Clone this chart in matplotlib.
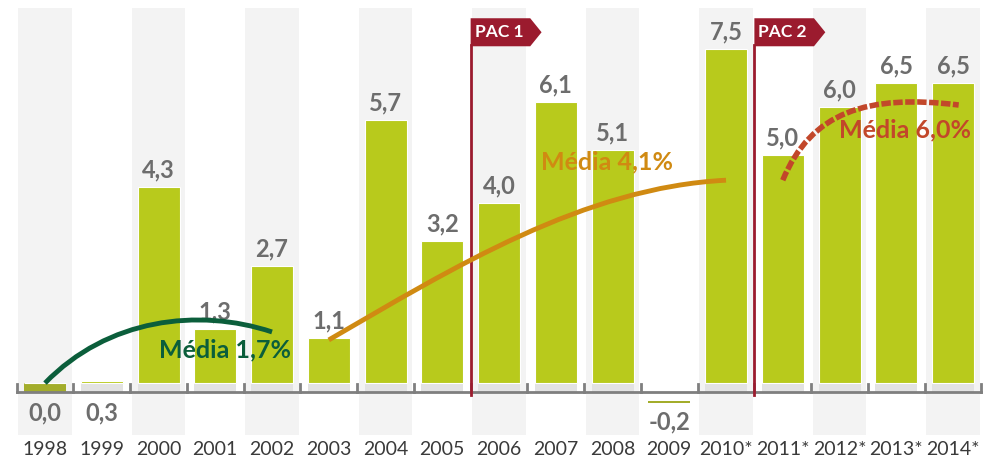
import matplotlib.pyplot as plt
from matplotlib.path import Path
from matplotlib.patches import PathPatch, Polygon
import numpy as np

plt.rcParams['font.family'] = ['Lato', 'DejaVu Sans']

years = ['1998', '1999', '2000', '2001', '2002', '2003', '2004', '2005', '2006',
         '2007', '2008', '2009', '2010*', '2011*', '2012*', '2013*', '2014*']
values = [0.0, 0.3, 4.3, 1.3, 2.7, 1.1, 5.7, 3.2, 4.0, 6.1, 5.1, -0.2, 7.5, 5.0, 6.0, 6.5, 6.5]
# bar heights as drawn in the picture (not exactly the printed labels)
heights = [0.0, 0.04, 4.4, 1.21, 2.63, 1.01, 5.91, 3.2, 4.04, 6.32, 5.24, -0.2, 7.5, 5.12, 6.21, 6.75, 6.75]

# average arcs as cubic bezier points (category index, level)
avg_labels = ['Média 1,7%', 'Média 4,1%', 'Média 6,0%']
avg_arcs = [
    [(0, 0.0), (1.1, 1.45), (2.7, 1.7), (4.0, 1.15)],
    [(5.0, 0.97), (7.2, 2.6), (9.5, 4.4), (12.0, 4.56)],
    [(13.0, 4.56), (13.5, 6.1), (14.5, 6.5), (16.1, 6.25)],
]
avg_label_pos = [(3.17, 0.74), (9.9, 4.97), (15.15, 5.69)]
avg_colors = ['#0b5e3b', '#d08a12', '#c2472a']

pac_labels = ['PAC 1', 'PAC 2']
pac_pos = [7.5, 12.5]

bar_color = '#b8ca1c'
axis_y = -0.2

fig = plt.figure(figsize=(10, 4.73), dpi=100)
ax = fig.add_axes([0, 0, 1, 1])
ax.set_xlim(-0.793, 16.828)
ax.set_ylim(-2.02, 8.61)
ax.axis('off')

x = np.arange(len(years))

# background stripes on every other year
for i in x[::2]:
    ax.bar(i, 8.43 + 1.17, bottom=-1.17, width=0.95, color='#f3f3f3', zorder=0)

# shadow base under each bar
for i, h in enumerate(heights):
    if h < 0:
        continue
    base_col = '#a3ad2b' if i == 0 else '#e2e2e2'
    ax.bar(i, -axis_y, bottom=axis_y, width=0.74, color=base_col, zorder=1)

for i, h in enumerate(heights):
    if h >= 0:
        ax.bar(i, h, width=0.74, color=bar_color, edgecolor='white', linewidth=0.8, zorder=2)
    else:
        ax.bar(i, 0.05, bottom=axis_y + h - 0.05, width=0.74, color='#a3ad2b', zorder=2)

# axis line with ticks at category boundaries
ax.plot([-0.5, 16.5], [axis_y, axis_y], color='#7f7f7f', lw=2, zorder=3)
for b in np.arange(-0.5, 17, 1.0):
    ax.plot([b, b], [axis_y, axis_y + 0.17], color='#7f7f7f', lw=2, zorder=3)

# value labels
for i, v in enumerate(values):
    txt = ('%.1f' % v).replace('.', ',')
    if i in (0, 1):
        ax.text(i, -0.67, txt, ha='center', va='center', fontsize=17,
                fontweight='bold', color='#6d6d6d', zorder=5)
    elif v < 0:
        ax.text(i, -0.88, txt, ha='center', va='center', fontsize=17,
                fontweight='bold', color='#6d6d6d', zorder=5)
    else:
        ax.annotate(txt, (i, heights[i]), xytext=(0, 4), textcoords='offset points',
                    ha='center', va='bottom', fontsize=17, fontweight='bold',
                    color='#6d6d6d', zorder=5)

# year labels
for i, y in enumerate(years):
    ax.text(i, -1.5, y, ha='center', va='center', fontsize=14, color='#3a3a3a')

# PAC markers
for lab, p in zip(pac_labels, pac_pos):
    ax.plot([p, p], [axis_y - 0.07, 7.6], color='#9b1b2e', lw=2, zorder=4)
    w, notch, top, bot = 1.25, 0.2, 8.2, 7.57
    flag = Polygon([(p, top), (p + w - notch, top), (p + w, (top + bot) / 2),
                    (p + w - notch, bot), (p, bot)], closed=True,
                   facecolor='#9b1b2e', edgecolor='none', zorder=4)
    ax.add_patch(flag)
    ax.text(p + 0.07, (top + bot) / 2, lab, ha='left', va='center', fontsize=12.5,
            fontweight='bold', color='white', zorder=5)

# average arcs
codes = [Path.MOVETO, Path.CURVE4, Path.CURVE4, Path.CURVE4]
for k, pts in enumerate(avg_arcs):
    if k == 2:
        ls, lw = (0, (1.7, 0.45)), 4
    else:
        ls, lw = '-', 3.5
    patch = PathPatch(Path(pts, codes), facecolor='none', edgecolor=avg_colors[k],
                      lw=lw, linestyle=ls, capstyle='butt', zorder=6)
    ax.add_patch(patch)
    ax.text(avg_label_pos[k][0], avg_label_pos[k][1], avg_labels[k], ha='center',
            va='center', fontsize=18, fontweight='bold', color=avg_colors[k], zorder=7)

fig.savefig('out.png', dpi=100)
